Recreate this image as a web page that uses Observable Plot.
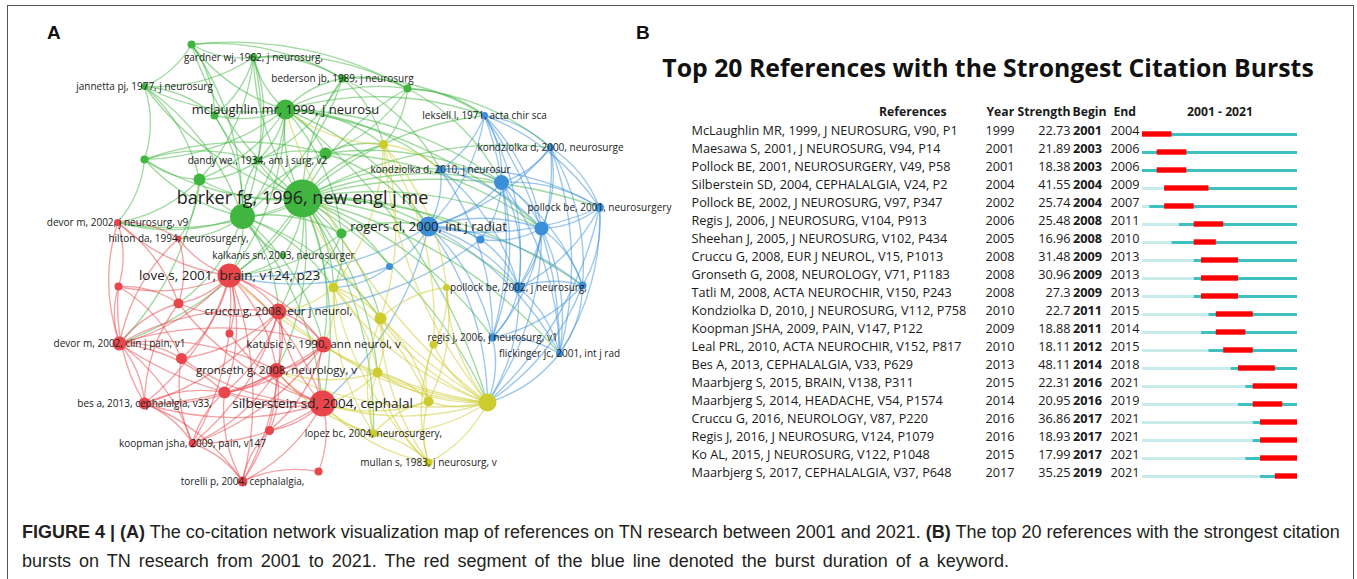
<!DOCTYPE html>
<html>
<head>
<meta charset="utf-8">
<script src="https://cdn.jsdelivr.net/npm/d3@7"></script>
<script src="https://cdn.jsdelivr.net/npm/@observablehq/plot@0.6"></script>
<style>
html,body{margin:0;padding:0;background:#fff;}
#root{position:relative;width:1357px;height:579px;overflow:hidden;background:#fff;}
#frame{position:absolute;left:7px;top:5px;width:1347px;height:620px;border:1.5px solid #555;box-sizing:border-box;}
.letter{position:absolute;font-family:"Liberation Sans",Arial,sans-serif;font-weight:bold;font-size:19px;line-height:20px;color:#111;}
#panelA{position:absolute;left:20px;top:20px;}
#panelB{position:absolute;left:640px;top:88px;}
#titleB{position:absolute;left:640px;top:50px;width:696px;text-align:center;font-family:"Open Sans",sans-serif;font-weight:bold;font-size:24.8px;line-height:34px;color:#111;white-space:nowrap;}
#caption{position:absolute;left:22px;top:518px;font-family:"Liberation Sans",Arial,sans-serif;font-size:18px;line-height:29px;color:#231f20;}
#caption div{white-space:nowrap;}
#caption div.l2{word-spacing:3px;}
</style>
</head>
<body>
<div id="root">
  <div id="frame"></div>
  <div id="panelA"></div>
  <div class="letter" style="left:47px;top:23px;">A</div>
  <div class="letter" style="left:636px;top:23px;">B</div>
  <div id="titleB"></div>
  <div id="panelB"></div>
  <div id="caption"></div>
</div>
<script>
// ---------- Panel A: co-citation network (VOSviewer layout) ----------
const nodeId = ["g1","g2","g3","g4","g5","g6","g7","g8","g9","g10","g11","g12","g13","g14","g15",
  "b1","b2","b3","b4","b5","b6","b7","b8","b9","b10","b11","b12","b13",
  "y1","y2","y3","y4","y5","y6","y7","y8","y9","y10",
  "r1","r2","r3","r4","r5","r6","r7","r8","r9","r10","r11","r12","r13","r14","r15","r16","r17","r18"];
const nodeX = [191,253,144,342,407,214,285,325,257,144,199,302,242,341,283,
  484,550,440,501,599,428,541,480,389,518,582,492,559,
  383,333,446,380,433,377,428,487,373,428,
  117,178,229,118,178,278,229,119,181,323,276,224,144,322,269,192,318,242];
const nodeY = [44,57,86,78,88,115,109,153,160,159,179,198,216,233,255,
  115,147,169,182,207,226,228,239,266,287,285,337,353,
  144,287,287,318,344,372,401,402,433,462,
  222,238,275,286,303,311,333,343,358,344,370,392,403,403,430,443,471,481];
const nodeWeight = [4,4,3.5,4,4,4,10,6,4,4,6,19,12.5,5,3,
  3.5,3.5,4,7.5,4.5,10,7,4,3.5,5.5,4,4,3.5,
  4.5,5,3.5,6,4,5,5,9,4,4,
  3.5,3,12,4,5,8,4,7,5.5,8,7.5,6,6,13,4.5,4,4,5];
const nodeCluster = [...Array(15).fill("Cluster 2"), ...Array(13).fill("Cluster 3"), ...Array(10).fill("Cluster 4"), ...Array(18).fill("Cluster 1")];
const nodeLabel = ["","gardner wj, 1962, j neurosurg,","jannetta pj, 1977, j neurosurg","bederson jb, 1989, j neurosurg","","",
  "mclaughlin mr, 1999, j neurosu","","dandy we., 1934, am j surg, v2","","","barker fg, 1996, new engl j me","","",
  "kalkanis sn, 2003, neurosurger",
  "leksell l, 1971, acta chir sca","kondziolka d, 2000, neurosurge","kondziolka d, 2010, j neurosur","",
  "pollock be, 2001, neurosurgery","rogers cl, 2000, int j radiat","","","","pollock be, 2002, j neurosurg,","",
  "regis j, 2006, j neurosurg, v1","flickinger jc, 2001, int j rad",
  "","","","","","","","","lopez bc, 2004, neurosurgery,","mullan s, 1983, j neurosurg, v",
  "devor m, 2002, j neurosurg, v9","hilton da, 1994, neurosurgery,","love s, 2001, brain, v124, p23","","",
  "cruccu g, 2008, eur j neurol,","","devor m, 2002, clin j pain, v1","","katusic s, 1990, ann neurol, v",
  "gronseth g, 2008, neurology, v","","bes a, 2013, cephalalgia, v33,","silberstein sd, 2004, cephalal","",
  "koopman jsha, 2009, pain, v147","","torelli p, 2004, cephalalgia,"];
const edgePairs = [
  "g12 g1","g12 g2","g12 g3","g12 g4","g12 g5","g12 g6","g12 g7","g12 g8","g12 g9","g12 g10","g12 g11","g12 g13","g12 g14","g12 g15",
  "g12 b1","g12 b2","g12 b3","g12 b4","g12 b5","g12 b6","g12 b7","g12 b8","g12 b9","g12 b10","g12 b11","g12 b12","g12 b13",
  "g12 y1","g12 y2","g12 y4","g12 y6","g12 y8","g12 y9",
  "g12 r1","g12 r3","g12 r6","g12 r8","g12 r10","g12 r11","g12 r14",
  "g7 g1","g7 g2","g7 g3","g7 g4","g7 g5","g7 g6","g7 g8","g7 g9","g7 g10","g7 g11","g7 g13","g7 g14",
  "g7 b1","g7 b3","g7 b4","g7 b6","g7 b7","g7 y1","g7 y8","g7 r3",
  "g2 g1","g2 g3","g2 g4","g2 g5","g2 g6","g2 g9","g2 g11","g2 g13",
  "g1 g3","g1 g4","g1 g5","g1 g13","g1 g6",
  "g4 g5","g4 g9","g4 g13","g4 b3","g4 y1","g4 b1",
  "g3 g6","g3 g10","g3 g11","g3 g13",
  "g5 g8","g5 b4","g5 y1","g5 b1","g5 b2",
  "g13 g8","g13 g9","g13 g10","g13 g11","g13 g14","g13 r1","g13 r2","g13 r3","g13 r5","g13 r6","g13 r10","g13 r14","g13 y2","g13 y4",
  "g11 r1","g11 r2","g11 r8","g11 g10","g10 g9","g10 g8","g10 r1","g6 g13","g8 b4","g8 b6","g8 y1","g8 b7",
  "g14 b6","g14 y2","g14 r3","g14 r6","g9 g8","g9 g11","g15 g13","g15 r3",
  "b1 b2","b1 b3","b1 b4","b1 b5","b1 b6","b1 b7","b1 b10","b1 b12","b1 b13",
  "b2 b4","b2 b5","b2 b6","b2 b7","b2 b10","b2 b11","b2 b13",
  "b3 b4","b3 b6","b3 b7","b3 b5","b3 b10","b3 b12",
  "b4 b5","b4 b6","b4 b7","b4 b8","b4 b10","b4 b11","b4 b12","b4 b13",
  "b5 b6","b5 b7","b5 b10","b5 b11","b5 b13",
  "b6 b7","b6 b8","b6 b9","b6 b10","b6 b11","b6 b12","b6 b13",
  "b7 b10","b7 b11","b7 b12","b7 b13","b7 b8","b8 b10","b10 b11","b10 b12","b10 b13","b11 b12","b11 b13","b12 b13",
  "b6 y8","b7 y8","b13 y8","b12 y8","b5 y8","b10 y8","b11 y8","b6 r3","b6 r14","b8 r6","b9 r3","b9 y2",
  "y8 y1","y8 y2","y8 y3","y8 y4","y8 y5","y8 y6","y8 y7","y8 y9","y8 y10","y8 r14","y8 r10","y8 r11","y8 r6","y8 r3","y8 g12","y8 g7",
  "y9 y2","y9 y4","y9 y6","y9 y7","y9 y10","y9 r14","y9 r11",
  "y10 y7","y10 y6","y10 y4","y10 y5","y10 y2","y10 r14",
  "y1 y4","y1 y2","y1 y3","y1 y5","y1 b3","y1 g7",
  "y2 y4","y2 y6","y2 y7","y2 r6","y2 r10","y4 y6","y4 y7","y4 y3","y3 y5","y3 y7","y6 y7","y6 r14","y6 r11","y7 r14","y7 y5",
  "r3 r1","r3 r2","r3 r4","r3 r5","r3 r6","r3 r7","r3 r8","r3 r9","r3 r10","r3 r11","r3 r12","r3 r13","r3 r14","r3 r16","r3 r18",
  "r14 r6","r14 r8","r14 r9","r14 r10","r14 r11","r14 r12","r14 r13","r14 r15","r14 r16","r14 r17","r14 r18","r14 r5","r14 r7",
  "r8 r1","r8 r2","r8 r4","r8 r5","r8 r6","r8 r9","r8 r11","r8 r12","r8 r13","r8 r16","r8 r10",
  "r6 r5","r6 r9","r6 r10","r6 r11","r6 r12","r6 r13","r6 r16","r6 r18",
  "r10 r11","r10 r12","r10 r13","r10 r15","r10 r16","r11 r12","r11 r13","r11 r16","r11 r18","r11 r15",
  "r13 r4","r13 r12","r13 r16","r13 r18","r13 r5","r1 r2","r1 r4","r1 r5","r16 r12","r16 r18","r16 r9",
  "r18 r12","r18 r15","r18 r17","r4 r5","r4 r9","r2 r5"
];
const clusterNames = ["Cluster 1","Cluster 2","Cluster 3","Cluster 4"];
const clusterColors = ["#e8464b","#40b640","#3a8fd8","#cdcc2e"];

const nodeIndex = new Map(nodeId.map((d, i) => [d, i]));
const nodes = nodeId.map((id, i) => ({id, x: nodeX[i], y: nodeY[i], w: nodeWeight[i], c: nodeCluster[i], label: nodeLabel[i]}));
const edges = edgePairs.map(s => { const [a, b] = s.split(" "); return {a: nodeIndex.get(a), b: nodeIndex.get(b)}; });
const labelSize = w => w >= 15 ? 18 : w >= 12 ? 13.5 : w >= 9.5 ? 13 : w >= 7.5 ? 11.5 : 10;

const plotA = Plot.plot({
  width: 620, height: 470, margin: 0,
  x: {domain: [20, 640], range: [0, 620], axis: null},
  y: {domain: [20, 490], range: [0, 470], axis: null},
  r: {type: "linear", domain: [0, 20], range: [0, 20]},
  color: {domain: clusterNames, range: clusterColors},
  style: {fontFamily: "'Open Sans', sans-serif", background: "transparent", overflow: "visible"},
  marks: [
    Plot.arrow(edges, {
      x1: e => nodeX[e.a], y1: e => nodeY[e.a], x2: e => nodeX[e.b], y2: e => nodeY[e.b],
      stroke: e => nodeCluster[e.a], strokeOpacity: 0.5, strokeWidth: 1.35, bend: 18, headLength: 0
    }),
    Plot.dot(nodes, {x: "x", y: "y", r: "w", fill: "c", stroke: "none"}),
    Plot.text(nodes.filter(d => d.label), {x: "x", y: "y", text: "label", fontSize: d => labelSize(d.w), fill: "#222"})
  ]
});
document.getElementById("panelA").appendChild(plotA);

// ---------- Panel B: citation bursts ----------
const titleB = "Top 20 References with the Strongest Citation Bursts";
const headers = ["References", "Year", "Strength", "Begin", "End"];
const firstYear = 2001, lastYear = 2021;
const refs = [
  "McLaughlin MR, 1999, J NEUROSURG, V90, P1",
  "Maesawa S, 2001, J NEUROSURG, V94, P14",
  "Pollock BE, 2001, NEUROSURGERY, V49, P58",
  "Silberstein SD, 2004, CEPHALALGIA, V24, P2",
  "Pollock BE, 2002, J NEUROSURG, V97, P347",
  "Regis J, 2006, J NEUROSURG, V104, P913",
  "Sheehan J, 2005, J NEUROSURG, V102, P434",
  "Cruccu G, 2008, EUR J NEUROL, V15, P1013",
  "Gronseth G, 2008, NEUROLOGY, V71, P1183",
  "Tatli M, 2008, ACTA NEUROCHIR, V150, P243",
  "Kondziolka D, 2010, J NEUROSURG, V112, P758",
  "Koopman JSHA, 2009, PAIN, V147, P122",
  "Leal PRL, 2010, ACTA NEUROCHIR, V152, P817",
  "Bes A, 2013, CEPHALALGIA, V33, P629",
  "Maarbjerg S, 2015, BRAIN, V138, P311",
  "Maarbjerg S, 2014, HEADACHE, V54, P1574",
  "Cruccu G, 2016, NEUROLOGY, V87, P220",
  "Regis J, 2016, J NEUROSURG, V124, P1079",
  "Ko AL, 2015, J NEUROSURG, V122, P1048",
  "Maarbjerg S, 2017, CEPHALALGIA, V37, P648"
];
const pubYear = [1999,2001,2001,2004,2002,2006,2005,2008,2008,2008,2010,2009,2010,2013,2015,2014,2016,2016,2015,2017];
const strength = [22.73,21.89,18.38,41.55,25.74,25.48,16.96,31.48,30.96,27.3,22.7,18.88,18.11,48.11,22.31,20.95,36.86,18.93,17.99,35.25];
const beginYear = [2001,2003,2003,2004,2004,2008,2008,2009,2009,2009,2011,2011,2012,2014,2016,2016,2017,2017,2017,2019];
const endYear = [2004,2006,2006,2009,2007,2011,2010,2013,2013,2013,2015,2014,2015,2018,2021,2019,2021,2021,2021,2021];

const tbl = refs.map((r, i) => ({ref: r, year: pubYear[i], s: strength[i], b: beginYear[i], e: endYear[i]}));
const HEAD = "__header__";
const rows = [HEAD, ...refs];
const step = 18.6;

document.getElementById("titleB").textContent = titleB;

const txtCol = "#1a1a1a";
const hSize = 12.2;
const plotB = Plot.plot({
  width: 700, height: 402, margin: 0,
  x: {domain: [firstYear, lastYear + 1], range: [502, 657], axis: null},
  y: {type: "band", domain: rows, range: [9, 9 + rows.length * step], padding: 0, axis: null},
  style: {fontFamily: "'Open Sans', sans-serif", fontSize: "12.7px", background: "transparent", overflow: "visible"},
  marks: [
    Plot.ruleY(tbl, {y: "ref", x1: () => firstYear, x2: d => Math.max(d.year, firstYear), stroke: "#c8ebeb", strokeWidth: 3, dy: 4}),
    Plot.ruleY(tbl, {y: "ref", x1: d => Math.max(d.year, firstYear), x2: () => lastYear + 1, stroke: "#3fc0c0", strokeWidth: 3, dy: 4}),
    Plot.barX(tbl, {y: "ref", x1: "b", x2: d => d.e + 1, fill: "#ff0000", insetTop: 10.3, insetBottom: 2.3}),
    Plot.text(tbl, {y: "ref", text: "ref", frameAnchor: "left", textAnchor: "start", dx: 51, fill: txtCol}),
    Plot.text(tbl, {y: "ref", text: d => String(d.year), frameAnchor: "left", textAnchor: "middle", dx: 359.5, fill: txtCol}),
    Plot.text(tbl, {y: "ref", text: d => String(d.s), frameAnchor: "left", textAnchor: "end", dx: 430, fill: txtCol}),
    Plot.text(tbl, {y: "ref", text: d => String(d.b), frameAnchor: "left", textAnchor: "start", dx: 432.5, fontWeight: "bold", fill: txtCol}),
    Plot.text(tbl, {y: "ref", text: d => String(d.e), frameAnchor: "left", textAnchor: "start", dx: 470, fill: txtCol}),
    Plot.text([headers[0]], {y: () => HEAD, text: d => d, frameAnchor: "left", textAnchor: "end", dx: 306, fontWeight: "bold", fontSize: hSize, fill: txtCol}),
    Plot.text([headers[1]], {y: () => HEAD, text: d => d, frameAnchor: "left", textAnchor: "start", dx: 346, fontWeight: "bold", fontSize: hSize, fill: txtCol}),
    Plot.text([headers[2]], {y: () => HEAD, text: d => d, frameAnchor: "left", textAnchor: "start", dx: 377, fontWeight: "bold", fontSize: hSize, fill: txtCol}),
    Plot.text([headers[3]], {y: () => HEAD, text: d => d, frameAnchor: "left", textAnchor: "start", dx: 432, fontWeight: "bold", fontSize: hSize, fill: txtCol}),
    Plot.text([headers[4]], {y: () => HEAD, text: d => d, frameAnchor: "left", textAnchor: "start", dx: 473, fontWeight: "bold", fontSize: hSize, fill: txtCol}),
    Plot.text([`${firstYear} - ${lastYear}`], {x: () => (firstYear + lastYear + 1) / 2, y: () => HEAD, text: d => d, fontWeight: "bold", fontSize: hSize, fill: txtCol})
  ]
});
document.getElementById("panelB").appendChild(plotB);

// ---------- Caption ----------
const captionLines = [
  [["FIGURE 4 | (A)", true], [" The co-citation network visualization map of references on TN research between 2001 and 2021. ", false], ["(B)", true], [" The top 20 references with the strongest citation", false]],
  [["bursts on TN research from 2001 to 2021. The red segment of the blue line denoted the burst duration of a keyword.", false]]
];
const cap = document.getElementById("caption");
captionLines.forEach((line, li) => {
  const div = document.createElement("div");
  if (li === 1) div.className = "l2";
  for (const [t, bold] of line) {
    const s = document.createElement(bold ? "b" : "span");
    s.textContent = t;
    div.appendChild(s);
  }
  cap.appendChild(div);
});
</script>
</body>
</html>
